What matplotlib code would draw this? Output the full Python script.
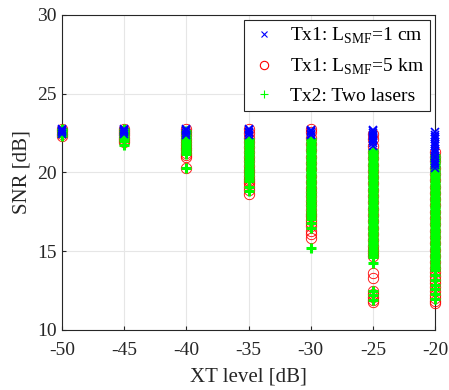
import matplotlib
matplotlib.use('Agg')
import matplotlib.pyplot as plt

# XT levels [dB]
xt_levels = [-50, -45, -40, -35, -30, -25, -20]

# Tx1, L_SMF = 1 cm  (SNR [dB] per XT level)
snr_1cm = [
    [22.45, 22.55, 22.6, 22.7, 22.75],
    [22.45, 22.55, 22.6, 22.7, 22.75],
    [22.4, 22.5, 22.6, 22.7, 22.75],
    [22.4, 22.5, 22.58, 22.66, 22.75],
    [22.35, 22.45, 22.55, 22.62, 22.7],
    [21.7, 21.85, 22.0, 22.1, 22.2, 22.3, 22.4, 22.5, 22.6, 22.7],
    [20.3, 20.45, 20.6, 20.75, 20.9, 21.05, 21.2, 21.35, 21.5, 21.65,
     21.8, 21.95, 22.1, 22.25, 22.4, 22.55],
]

# Tx1, L_SMF = 5 km
snr_5km = [
    [22.3, 22.45, 22.6, 22.75],
    [21.95, 22.08, 22.2, 22.35, 22.5, 22.65, 22.78],
    [20.3, 21.0, 21.12, 21.25, 21.4, 21.55, 21.75, 21.95, 22.15, 22.35, 22.55, 22.75],
    [18.65, 18.85, 19.1, 19.3, 19.45, 19.6, 19.8, 20.05, 20.15, 20.4, 20.7, 21.0,
     21.3, 21.6, 21.9, 22.2, 22.5, 22.75],
    [15.85, 16.1, 16.3, 16.6, 16.8, 17.0, 17.2, 17.35, 17.6, 17.9, 18.2, 18.5,
     18.75, 19.0, 19.4, 19.8, 20.2, 20.6, 21.0, 21.4, 21.8, 22.2, 22.55, 22.75],
    [11.75, 11.9, 12.1, 12.3, 12.5, 13.3, 13.6, 14.7, 14.9, 15.1, 15.35, 15.7,
     16.1, 16.5, 16.9, 17.3, 17.7, 18.1, 18.5, 18.9, 19.3, 19.7, 20.1, 20.5,
     20.9, 21.3, 21.7, 22.1, 22.45],
    [11.7, 11.85, 12.0, 12.2, 12.45, 12.7, 12.95, 13.2, 13.45, 13.7, 13.95, 14.3,
     14.7, 15.1, 15.5, 15.9, 16.3, 16.7, 17.1, 17.5, 17.9, 18.3, 18.7, 19.1,
     19.5, 19.9, 20.3, 20.7, 21.0, 21.3],
]

# Tx2, two lasers
snr_two = [
    [22.3, 22.42, 22.55, 22.66, 22.78],
    [21.75, 22.0, 22.12, 22.25, 22.38, 22.5, 22.63, 22.76],
    [20.3, 21.15, 21.28, 21.4, 21.55, 21.68, 21.8, 21.95, 22.08, 22.2, 22.33,
     22.47, 22.6],
    [18.8, 19.05, 19.45, 19.6, 19.74, 19.9, 20.03, 20.18, 20.3, 20.46, 20.6,
     20.75, 20.88, 21.02, 21.17, 21.3, 21.45, 21.58, 21.72, 21.86, 22.0, 22.14],
    [15.2, 16.5, 16.8, 17.05, 17.2, 17.35, 17.48, 17.62, 17.78, 17.9, 18.05,
     18.2, 18.33, 18.48, 18.6, 18.76, 18.9, 19.04, 19.18, 19.32, 19.46, 19.6,
     19.74, 19.88, 20.02, 20.16, 20.3, 20.44, 20.58, 20.72, 20.86, 21.0, 21.14,
     21.28, 21.42, 21.56, 21.7, 21.84, 21.98, 22.1],
    [11.9, 12.2, 12.45, 14.25, 14.6, 14.73, 14.9, 15.02, 15.15, 15.31, 15.43,
     15.57, 15.72, 15.85, 16.01, 16.13, 16.27, 16.43, 16.55, 16.71, 16.84,
     16.97, 17.13, 17.25, 17.4, 17.53, 17.69, 17.81, 17.96, 18.1, 18.23, 18.39,
     18.51, 18.67, 18.8, 18.93, 19.09, 19.21, 19.37, 19.5, 19.63, 19.79, 19.91,
     20.07, 20.2, 20.33, 20.49, 20.61, 20.77, 20.9, 21.03, 21.19, 21.31, 21.45],
    [11.95, 12.3, 12.6, 12.85, 13.2, 13.5, 13.8, 13.93, 14.08, 14.2, 14.36,
     14.49, 14.62, 14.78, 14.9, 15.05, 15.18, 15.33, 15.46, 15.6, 15.75, 15.87,
     16.02, 16.15, 16.3, 16.43, 16.57, 16.72, 16.84, 16.99, 17.12, 17.27, 17.4,
     17.54, 17.69, 17.81, 17.96, 18.09, 18.24, 18.37, 18.51, 18.66, 18.78,
     18.93, 19.06, 19.21, 19.34, 19.48, 19.63, 19.75, 19.9, 20.03, 20.18,
     20.31, 20.45, 20.6, 20.72, 20.87, 21.0, 21.12],
]

labels = ['Tx1: L$_{\\rm SMF}$=1 cm', 'Tx1: L$_{\\rm SMF}$=5 km', 'Tx2: Two lasers']


def flatten(series):
    xs, ys = [], []
    for xt, vals in zip(xt_levels, series):
        xs += [xt] * len(vals)
        ys += vals
    return xs, ys


plt.rcParams['font.family'] = 'Liberation Serif'
plt.rcParams['mathtext.fontset'] = 'custom'
plt.rcParams['mathtext.rm'] = 'Liberation Serif'
plt.rcParams['axes.unicode_minus'] = False

fig = plt.figure(figsize=(4.49, 3.90), dpi=100)
ax = fig.add_axes([0.138, 0.154, 0.831, 0.808])

x1, y1 = flatten(snr_1cm)
x2, y2 = flatten(snr_5km)
x3, y3 = flatten(snr_two)

h2, = ax.plot(x2, y2, 'o', ls='none', mfc='none', mec=(1, 0, 0), ms=7.5, mew=0.6,
              clip_on=False, zorder=3)
h3, = ax.plot(x3, y3, '+', ls='none', color=(0, 1, 0), ms=7, mew=2.2,
              clip_on=False, zorder=4)
h1, = ax.plot(x1, y1, 'x', ls='none', color=(0, 0, 1), ms=5.5, mew=1.2,
              clip_on=False, zorder=5)

ax.set_xlim(-50, -20)
ax.set_ylim(10, 30)
ax.set_xticks(xt_levels)
ax.set_yticks([10, 15, 20, 25, 30])
ax.grid(True, color='#e6e6e6', lw=0.8)
ax.set_axisbelow(True)
for s in ax.spines.values():
    s.set_color('#262626')
    s.set_linewidth(0.8)
ax.tick_params(direction='in', length=3, labelsize=14, colors='#262626', pad=4)
ax.tick_params(axis='x', pad=9)
ax.set_xlabel('XT level [dB]', fontsize=15, color='#262626', labelpad=6)
ax.set_ylabel('SNR [dB]', fontsize=15, color='#262626', labelpad=4)

# legend markers drawn thin, like the reference
leg = ax.legend([h1, h2, h3], labels, loc='upper right', fontsize=14,
                fancybox=False, edgecolor='#262626', framealpha=1,
                handlelength=1.5, handletextpad=0.6, borderpad=0.3,
                labelspacing=0.55, borderaxespad=0.25, markerscale=0.8)
leg.get_frame().set_linewidth(0.8)
for lh in leg.legend_handles:
    lh.set_markeredgewidth(0.8)

fig.savefig('out.png', dpi=100)
